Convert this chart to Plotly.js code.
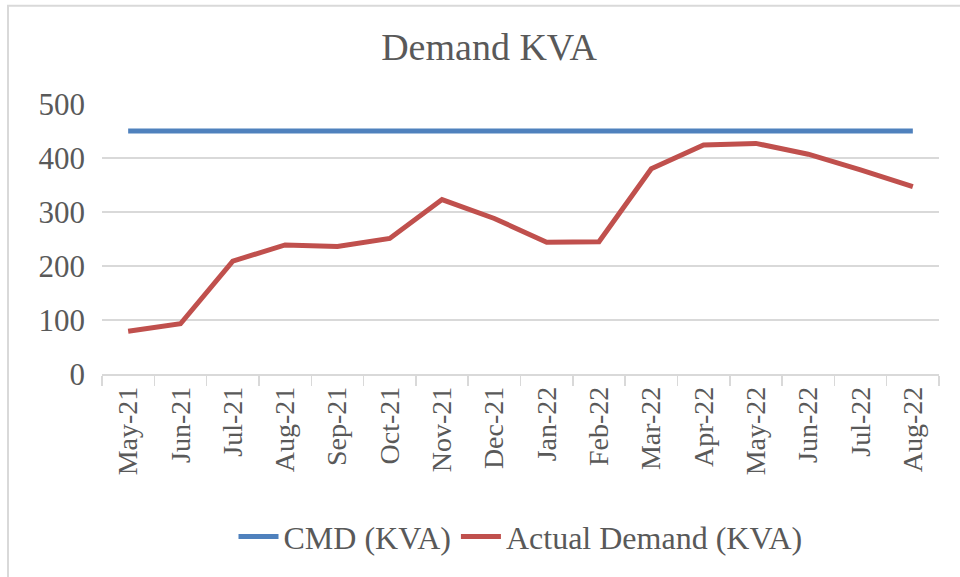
<!DOCTYPE html>
<html>
<head>
<meta charset="utf-8">
<script src="https://cdn.plot.ly/plotly-3.0.1.min.js"></script>
<style>html,body{margin:0;padding:0;background:#fff;}#chart{width:960px;height:577px;}</style>
</head>
<body>
<div id="chart"></div>
<script>
const months = ["May-21","Jun-21","Jul-21","Aug-21","Sep-21","Oct-21","Nov-21","Dec-21","Jan-22","Feb-22","Mar-22","Apr-22","May-22","Jun-22","Jul-22","Aug-22"];
const cmdKVA = [450,450,450,450,450,450,450,450,450,450,450,450,450,450,450,450];
const actualKVA = [79,93,209,239,236,251,323,288,244,245,380,424,427,407,378,347];
const yTicks = [0,100,200,300,400,500];

const serif = "'Liberation Serif', 'Times New Roman', serif";
const txt = "#595959";

const traces = [
  {x: months, y: cmdKVA, type: "scatter", mode: "lines", name: "CMD (KVA)",
   line: {color: "#4f81bd", width: 5}},
  {x: months, y: actualKVA, type: "scatter", mode: "lines", name: "Actual Demand (KVA)",
   line: {color: "#c0504d", width: 5}}
];

const L = 102, R = 21, T = 104, B = 201;
const pw = 960 - L - R, ph = 577 - T - B;

const layout = {
  width: 960, height: 577,
  margin: {l: L, r: R, t: T, b: B, pad: 0},
  paper_bgcolor: "#fff", plot_bgcolor: "#fff",
  font: {family: serif, color: txt},
  title: {text: "Demand KVA", font: {family: serif, size: 38, color: txt},
          x: (489 - L)/pw * pw/960 + L/960, xanchor: "center", y: 1 - 47/577, yanchor: "middle"},
  showlegend: true,
  legend: {orientation: "h", x: 0.5, xanchor: "center", y: (376-540)/ph, yanchor: "middle",
           font: {family: serif, size: 32, color: txt}, itemwidth: 40, tracegroupgap: 0},
  xaxis: {type: "category", range: [-0.5, months.length - 0.5], showgrid: false, zeroline: false,
          showline: true, linecolor: "#d9d9d9", linewidth: 1.5,
          ticks: "outside", tickson: "boundaries", ticklen: 10, tickcolor: "#d9d9d9", tickwidth: 1.5,
          tickangle: -90, tickfont: {family: serif, size: 28, color: txt}, fixedrange: true},
  yaxis: {range: [0, 500], tickvals: yTicks, showgrid: true, gridcolor: "#d9d9d9", gridwidth: 1.5,
          zeroline: false, showline: false, ticks: "", ticklabelstandoff: 16,
          tickfont: {family: serif, size: 31, color: txt}, fixedrange: true},
  shapes: [{type: "rect", xref: "paper", yref: "paper",
            x0: (8 - L)/pw, x1: (975 - L)/pw, y0: (376 - 590)/ph, y1: (376 - 5)/ph,
            line: {color: "#d9d9d9", width: 2}, fillcolor: "rgba(0,0,0,0)", layer: "below"}]
};

Plotly.newPlot("chart", traces, layout, {displayModeBar: false, staticPlot: true});
</script>
</body>
</html>
